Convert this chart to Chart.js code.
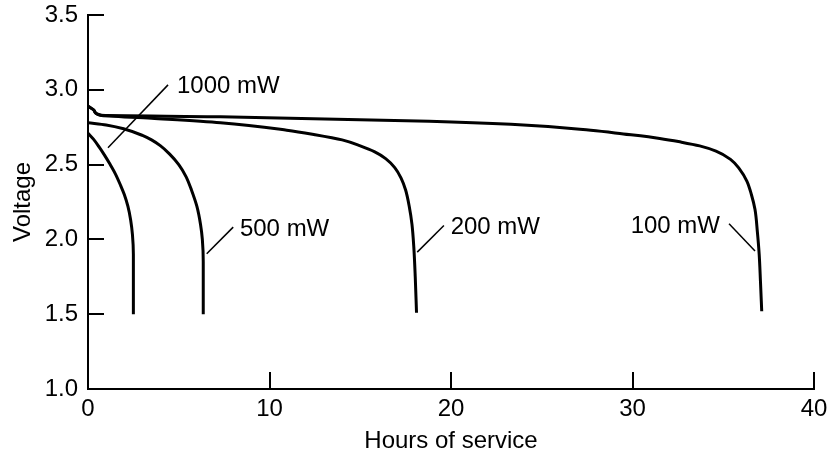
<!DOCTYPE html>
<html>
<head>
<meta charset="utf-8">
<script src="https://cdn.jsdelivr.net/npm/chart.js@4"></script>
<style>
  body { margin: 0; background: #fff; }
  #wrap { width: 837px; height: 456px; }
</style>
</head>
<body>
<div id="wrap"><canvas id="dischargeChart" width="837" height="456"></canvas></div>
<script>
// Discharge curves: hours of service vs. voltage
const seriesNames = ['1000 mW', '500 mW', '200 mW', '100 mW'];

const hours1000 = [0, 0.3, 0.6, 0.9, 1.2, 1.5, 1.8, 2.0, 2.2, 2.35, 2.45, 2.5, 2.5];
const volts1000 = [2.71, 2.67, 2.62, 2.565, 2.505, 2.44, 2.36, 2.30, 2.22, 2.13, 2.03, 1.90, 1.50];

const hours500 = [0, 1.0, 2.0, 3.0, 3.5, 4.0, 4.5, 5.0, 5.4, 5.7, 6.0, 6.2, 6.3, 6.35, 6.35];
const volts500 = [2.78, 2.765, 2.738, 2.695, 2.665, 2.625, 2.57, 2.50, 2.42, 2.33, 2.22, 2.10, 2.00, 1.85, 1.50];

const hours200 = [0, 0.35, 0.7, 3.5, 7.3, 10.95, 12.5, 14.0, 15.0, 15.8, 16.4, 16.9, 17.25, 17.5, 17.7, 17.85, 17.95, 18.03, 18.1];
const volts200 = [2.89, 2.86, 2.83, 2.81, 2.78, 2.73, 2.70, 2.665, 2.625, 2.585, 2.54, 2.48, 2.41, 2.33, 2.22, 2.10, 1.95, 1.75, 1.51];

const hours100 = [0, 0.35, 0.7, 7.3, 18.8, 23.3, 27.7, 29.5, 31.5, 32.7, 33.7, 34.6, 35.4, 35.9, 36.3, 36.55, 36.75, 36.88, 36.98, 37.05, 37.12];
const volts100 = [2.89, 2.86, 2.83, 2.82, 2.79, 2.77, 2.73, 2.705, 2.675, 2.65, 2.625, 2.59, 2.535, 2.47, 2.39, 2.30, 2.20, 2.05, 1.90, 1.72, 1.52];

const xTicks = [0, 10, 20, 30, 40];
const yTicks = [1.0, 1.5, 2.0, 2.5, 3.0, 3.5];

// Callout labels with their leader lines (in data units)
const callouts = [
    { text: '1000 mW', at: [4.9, 3.02], align: 'left', from: [4.41, 3.033], to: [1.10, 2.613] },
    { text: '500 mW', at: [8.37, 2.064], align: 'left', from: [8.0, 2.082], to: [6.54, 1.904] },
    { text: '200 mW', at: [19.98, 2.082], align: 'left', from: [19.61, 2.093], to: [18.14, 1.915] },
    { text: '100 mW', at: [34.82, 2.087], align: 'right', from: [35.32, 2.104], to: [36.75, 1.922] }
];

const FONT = '"Liberation Sans", Arial, Helvetica, sans-serif';
const FONT_SIZE = 24;

function toPoints(xs, ys) {
    return xs.map((x, i) => ({ x: x, y: ys[i] }));
}

// Inward tick marks plus the callout labels
const decorPlugin = {
    id: 'decor',
    afterDraw(chart) {
        const ctx = chart.ctx;
        const xs = chart.scales.x;
        const ys = chart.scales.y;
        const area = chart.chartArea;

        ctx.save();
        ctx.strokeStyle = '#000';
        ctx.lineWidth = 2;
        ctx.beginPath();
        xTicks.slice(1).forEach(v => {
            const px = Math.round(xs.getPixelForValue(v));
            ctx.moveTo(px, area.bottom);
            ctx.lineTo(px, area.bottom - 17);
        });
        yTicks.slice(1).forEach(v => {
            const py = Math.round(ys.getPixelForValue(v));
            ctx.moveTo(area.left, py);
            ctx.lineTo(area.left + 16, py);
        });
        ctx.stroke();

        ctx.lineWidth = 1.5;
        ctx.fillStyle = '#000';
        ctx.font = FONT_SIZE + 'px ' + FONT;
        ctx.textBaseline = 'middle';
        callouts.forEach(c => {
            ctx.beginPath();
            ctx.moveTo(xs.getPixelForValue(c.from[0]), ys.getPixelForValue(c.from[1]));
            ctx.lineTo(xs.getPixelForValue(c.to[0]), ys.getPixelForValue(c.to[1]));
            ctx.stroke();
            ctx.textAlign = c.align;
            ctx.fillText(c.text, xs.getPixelForValue(c.at[0]), ys.getPixelForValue(c.at[1]));
        });
        ctx.restore();
    }
};

const seriesData = [
    toPoints(hours1000, volts1000),
    toPoints(hours500, volts500),
    toPoints(hours200, volts200),
    toPoints(hours100, volts100)
];

new Chart(document.getElementById('dischargeChart'), {
    type: 'line',
    data: {
        datasets: seriesData.map((pts, i) => ({
            label: seriesNames[i],
            data: pts,
            indexAxis: 'y', // voltage falls steadily, so smooth along it
            cubicInterpolationMode: 'monotone',
            borderColor: '#000',
            borderWidth: 3,
            pointRadius: 0,
            fill: false
        }))
    },
    options: {
        responsive: false,
        animation: false,
        layout: { padding: { top: 15, right: 23, left: 0, bottom: 0 } },
        plugins: { legend: { display: false }, tooltip: { enabled: false } },
        scales: {
            x: {
                type: 'linear',
                position: 'bottom',
                min: 0,
                max: 40,
                afterBuildTicks: scale => { scale.ticks = xTicks.map(v => ({ value: v })); },
                afterFit: scale => { scale.height = 67; },
                grid: { display: false, drawTicks: false },
                border: { display: true, color: '#000', width: 2 },
                ticks: { color: '#000', padding: 6, font: { family: FONT, size: FONT_SIZE }, maxRotation: 0 },
                title: { display: true, text: 'Hours of service', color: '#000', padding: { top: 0, bottom: 0 }, font: { family: FONT, size: FONT_SIZE } }
            },
            y: {
                type: 'linear',
                position: 'left',
                min: 1,
                max: 3.5,
                afterBuildTicks: scale => { scale.ticks = yTicks.map(v => ({ value: v })); },
                afterFit: scale => { scale.width = 88; scale.paddingTop = 0; scale.paddingBottom = 0; },
                grid: { display: false, drawTicks: false },
                border: { display: true, color: '#000', width: 2 },
                ticks: { color: '#000', padding: 10, font: { family: FONT, size: FONT_SIZE }, callback: v => v.toFixed(1) },
                title: { display: true, text: 'Voltage', color: '#000', padding: { top: 9, bottom: 0 }, font: { family: FONT, size: FONT_SIZE } }
            }
        }
    },
    plugins: [decorPlugin]
});
</script>
</body>
</html>
